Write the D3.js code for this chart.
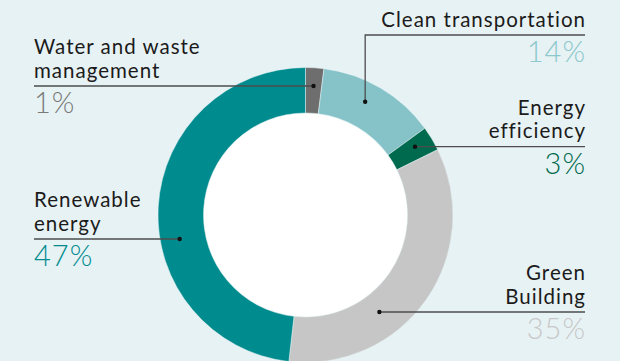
<!DOCTYPE html>
<html>
<head>
<meta charset="utf-8">
<script src="https://cdn.jsdelivr.net/npm/d3@7"></script>
<style>
  body { margin: 0; background: #e7f2f4; }
  svg { display: block; }
  .lbl { font-family: Lato, "Open Sans", sans-serif; font-size: 20.5px; fill: #1b1b1b; letter-spacing: 1px; }
  .pct { font-family: Lato, "Open Sans", sans-serif; font-size: 29px; font-weight: 300; letter-spacing: 1px; }
</style>
</head>
<body>
<div id="chart"></div>
<script>
// categories, clockwise from 12 o'clock
const categories = ["Water and waste management", "Clean transportation", "Energy efficiency", "Green Building", "Renewable energy"];
// printed percentages
const pctLabels = [1, 14, 3, 35, 47];
// share of the ring as drawn
const shares = [2.0, 13.0, 2.7, 34.1, 48.2];
const colors = ["#6e6e6e", "#85c3c9", "#006a4e", "#c6c6c6", "#008b8f"];
const pctColors = ["#7a7a7a", "#8cc8cc", "#006a4e", "#c8c8c8", "#008b8f"];

const W = 620, H = 361;
const cx = 305.5, cy = 215, rOuter = 147.5, rInner = 102, rDot = 128;

// label layout: text lines, side, line y, where on the slice the dot sits
const layout = [
  { lines: ["Water and waste", "management"], side: "left", y: 86, f: 0.5 },
  { lines: ["Clean transportation"], side: "right", y: 35, f: 0.44, elbow: true },
  { lines: ["Energy", "efficiency"], side: "right", y: 146.7, f: 0.5 },
  { lines: ["Green", "Building"], side: "right", y: 312, f: 0.66 },
  { lines: ["Renewable", "energy"], side: "left", y: 239, f: 0.42 }
];
const leftX = 34, rightX = 585;

const svg = d3.select("#chart").append("svg")
  .attr("width", W).attr("height", H);

svg.append("rect").attr("width", W).attr("height", H).attr("fill", "#e7f2f4");

const pie = d3.pie().sort(null).value(d => d);
const arcs = pie(shares);
const arc = d3.arc().innerRadius(rInner).outerRadius(rOuter);

const g = svg.append("g").attr("transform", `translate(${cx},${cy})`);

g.append("circle").attr("r", rInner).attr("fill", "#ffffff");

g.selectAll("path.slice")
  .data(arcs)
  .enter()
  .append("path")
  .attr("class", "slice")
  .attr("d", arc)
  .attr("fill", (d, i) => colors[i])
  .attr("stroke", "#e7f2f4")
  .attr("stroke-width", 0.5);

// leaders + labels
arcs.forEach((d, i) => {
  const L = layout[i];
  const a = d.startAngle + (d.endAngle - d.startAngle) * L.f;
  const dx = cx + rDot * Math.sin(a);
  let dy = L.elbow ? cy - rDot * Math.cos(a) : L.y;
  const edge = L.side === "left" ? leftX : rightX;

  let pts = L.elbow ? [[dx, dy], [dx, L.y], [edge, L.y]] : [[dx, dy], [edge, L.y]];
  svg.append("path")
    .attr("d", d3.line()(pts))
    .attr("fill", "none")
    .attr("stroke", "#4d4d4d")
    .attr("stroke-width", 1.3);
  svg.append("circle")
    .attr("cx", dx).attr("cy", dy).attr("r", 2.2)
    .attr("fill", "#111");

  // trailing letter-spacing pushes end-anchored text left, so nudge it back
  const anchor = L.side === "left" ? "start" : "end";
  const n = L.lines.length;
  L.lines.forEach((t, j) => {
    svg.append("text")
      .attr("class", "lbl")
      .attr("x", L.side === "left" ? edge : edge + 1)
      .attr("y", L.y - 8.5 - (n - 1 - j) * 23.5)
      .attr("text-anchor", anchor)
      .text(t);
  });
  svg.append("text")
    .attr("class", "pct")
    .attr("x", L.side === "left" ? edge : edge + 1)
    .attr("y", L.y + 27.3)
    .attr("text-anchor", anchor)
    .attr("fill", pctColors[i])
    .text(pctLabels[i] + "%");
});
</script>
</body>
</html>
